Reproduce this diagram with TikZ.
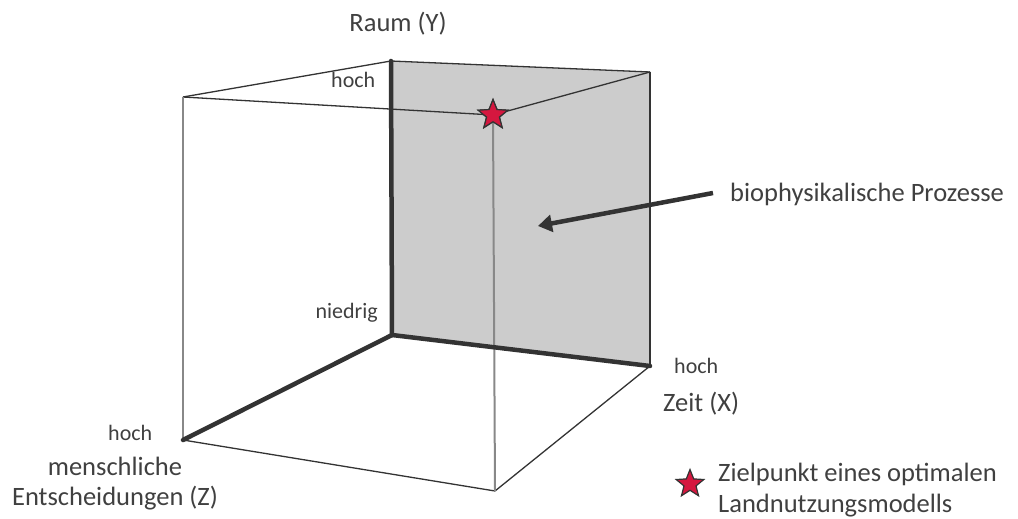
\documentclass[tikz,border=0pt]{standalone}
\usepackage{fontspec}
\setmainfont{Carlito}
\usetikzlibrary{shapes.geometric,arrows.meta}
\definecolor{txt}{HTML}{404040}
\definecolor{edge}{HTML}{333333}
\definecolor{faint}{HTML}{888888}
\definecolor{face}{HTML}{CCCCCC}
\definecolor{starred}{HTML}{D5173F}
\tikzset{
  big/.style={text=txt,font=\fontsize{26.5}{31}\selectfont,inner sep=0pt},
  small/.style={text=txt,font=\fontsize{22}{26}\selectfont,inner sep=0pt},
  thinedge/.style={draw=edge,line width=1.3pt},
  greyedge/.style={draw=faint,line width=2pt},
  thickedge/.style={draw=edge,line width=4.5pt,line cap=round},
  goalstar/.style={star,star points=5,star point ratio=2.3,fill=starred,draw=edge,line width=1.2pt,inner sep=0pt,minimum size=#1},
}
\begin{document}
\begin{tikzpicture}[x=1pt,y=-1pt]
\useasboundingbox (0,0) rectangle (1018,519);
% cube corners
\coordinate (btl) at (391,61);
\coordinate (btr) at (650,72);
\coordinate (bbr) at (650,366);
\coordinate (bbl) at (392,335);
\coordinate (ftl) at (183,97);
\coordinate (fbl) at (183,440);
\coordinate (fbr) at (495,491);
% back face
\fill[face] (btl) -- (btr) -- (bbr) -- (bbl) -- cycle;
\draw[thinedge] (btl) -- (btr);
\draw[draw=edge,line width=2pt] (btr) -- (bbr);
% star node (front top right corner)
\node[goalstar=31pt] (goal) at (493,115) {};
% thin edges
\draw[thinedge] (ftl) -- (btl);
\draw[thinedge] (ftl) -- (goal.center);
\draw[thinedge] (goal.center) -- (btr);
\draw[thinedge] (fbl) -- (fbr);
\draw[thinedge] (fbr) -- (bbr);
\draw[greyedge] (ftl) -- (fbl);
\draw[greyedge] (goal.center) -- (fbr);
% thick axes
\draw[thickedge] (btl) -- (bbl);
\draw[thickedge] (bbl) -- (bbr);
\draw[thickedge] (fbl) -- (bbl);
% redraw star on top
\node[goalstar=31pt] (goal2) at (goal.center) {};
% labels
\node[big,anchor=base] (raum) at (398,32) {Raum (Y)};
\node[small,anchor=base west] (hochy) at (331,88) {hoch};
\node[small,anchor=base east] (niedrig) at (378,318) {niedrig};
\node[small,anchor=base west] (hochx) at (674,373) {hoch};
\node[big,anchor=base west] (zeit) at (663,411) {Zeit (X)};
\node[small,anchor=base west] (hochz) at (108,440) {hoch};
\node[big,anchor=base] (mensch) at (115,475) {menschliche};
\node[big,anchor=base] (entsch) at (115,505) {Entscheidungen (Z)};
\node[big,anchor=base west] (bio) at (730,201) {biophysikalische Prozesse};
\coordinate (arrowend) at (538,226);
\draw[draw=edge,line width=4.5pt,-{Triangle[length=14pt,width=17pt]}] (713,193) -- (arrowend);
% legend
\node[goalstar=29pt] (legstar) at (690,484) {};
\node[big,anchor=base west] (leg1) at (718,481) {Zielpunkt eines optimalen};
\node[big,anchor=base west] (leg2) at (718,512) {Landnutzungsmodells};
\end{tikzpicture}
\end{document}
